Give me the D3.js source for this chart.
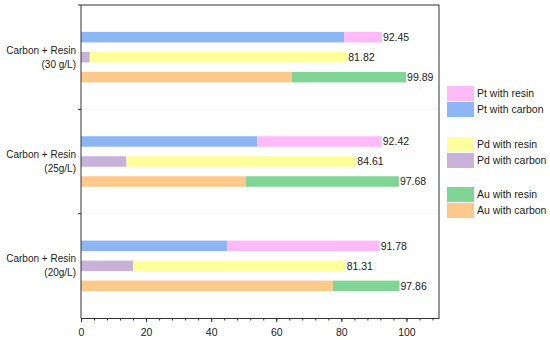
<!DOCTYPE html>
<html>
<head>
<meta charset="utf-8">
<script src="https://cdn.jsdelivr.net/npm/d3@7"></script>
<style>
  body { margin: 0; background: #fff; }
  svg { display: block; font-family: "Liberation Sans", Arial, sans-serif; }
  .axis path, .axis line { stroke: #333; }
</style>
</head>
<body>
<div id="chart"></div>
<script>
// data
const groups = ['30', '25', '20'];
const groupLines = [['Carbon + Resin', '(30 g/L)'], ['Carbon + Resin', '(25g/L)'], ['Carbon + Resin', '(20g/L)']];
const metals = ['Pt', 'Pd', 'Au'];
const ptCarbon = [80.9, 54.2, 44.9];
const ptTotal = [92.45, 92.42, 91.78];
const pdCarbon = [2.7, 14.0, 16.0];
const pdTotal = [81.82, 84.61, 81.31];
const auCarbon = [64.7, 50.7, 77.4];
const auTotal = [99.89, 97.68, 97.86];
const xTicks = [0, 20, 40, 60, 80, 100];
const legendLabels = [['Pt with resin', 'Pt with carbon'], ['Pd with resin', 'Pd with carbon'], ['Au with resin', 'Au with carbon']];

const colors = {
  Pt: { resin: '#ffbaf7', carbon: '#8db6f4' },
  Pd: { resin: '#ffff9c', carbon: '#c9b2d9' },
  Au: { resin: '#80d596', carbon: '#ffc98c' }
};

const width = 550, height = 340;
const margin = { top: 5, left: 81, right: 111, bottom: 22 };

const svg = d3.select('#chart').append('svg')
  .attr('width', width)
  .attr('height', height);

const x = d3.scaleLinear().domain([0, 110]).range([margin.left, width - margin.right]);
const y = d3.scaleBand().domain(groups).range([margin.top, height - margin.bottom]);
const inner = d3.scaleBand().domain(metals).range([0, y.bandwidth()])
  .paddingInner(0.475).paddingOuter(1.345);

// table for drawing
const rows = [];
groups.forEach((g, i) => {
  rows.push({ g, m: 'Pt', c: ptCarbon[i], t: ptTotal[i] });
  rows.push({ g, m: 'Pd', c: pdCarbon[i], t: pdTotal[i] });
  rows.push({ g, m: 'Au', c: auCarbon[i], t: auTotal[i] });
});

// faint separators between groups
svg.append('g').selectAll('line')
  .data(groups.slice(1))
  .join('line')
  .attr('x1', x(0)).attr('x2', x(110))
  .attr('y1', d => y(d)).attr('y2', d => y(d))
  .attr('stroke', '#f3f3f3');

const bars = svg.append('g');
bars.selectAll('.carbon')
  .data(rows)
  .join('rect')
  .attr('class', 'carbon')
  .attr('x', x(0))
  .attr('y', d => y(d.g) + inner(d.m))
  .attr('width', d => x(d.c) - x(0))
  .attr('height', inner.bandwidth())
  .attr('fill', d => colors[d.m].carbon);
bars.selectAll('.resin')
  .data(rows)
  .join('rect')
  .attr('class', 'resin')
  .attr('x', d => x(d.c))
  .attr('y', d => y(d.g) + inner(d.m))
  .attr('width', d => x(d.t) - x(d.c))
  .attr('height', inner.bandwidth())
  .attr('fill', d => colors[d.m].resin);

bars.selectAll('.val')
  .data(rows)
  .join('text')
  .attr('class', 'val')
  .attr('x', d => x(d.t) + 1)
  .attr('y', d => y(d.g) + inner(d.m) + inner.bandwidth() / 2)
  .attr('dy', '0.36em')
  .attr('font-size', '10.5px')
  .attr('fill', '#222')
  .text(d => d3.format('.2f')(d.t));

// x axis with minor ticks
const xAxis = svg.append('g')
  .attr('class', 'axis')
  .attr('transform', `translate(0,${height - margin.bottom})`);
xAxis.call(d3.axisBottom(x).tickValues(d3.range(0, 110, 4)).tickSize(2.5).tickFormat(''))
  .call(g => g.select('.domain').remove());
xAxis.append('g')
  .call(d3.axisBottom(x).tickValues(xTicks).tickSize(4).tickPadding(7).tickSizeOuter(0))
  .call(g => g.selectAll('text').attr('font-size', '10.5px').attr('fill', '#222'))
  .call(g => g.selectAll('line').attr('stroke', '#333'))
  .call(g => g.select('.domain').attr('stroke', '#333'));

// y axis: ticks at group boundaries
const yAxis = svg.append('g').attr('class', 'axis');
yAxis.append('line')
  .attr('x1', x(0)).attr('x2', x(0))
  .attr('y1', margin.top).attr('y2', height - margin.bottom)
  .attr('stroke', '#333');
yAxis.selectAll('.tk')
  .data(groups.slice(1).map(g => y(g)).concat([margin.top]))
  .join('line')
  .attr('class', 'tk')
  .attr('x1', x(0) - 3).attr('x2', x(0))
  .attr('y1', d => d).attr('y2', d => d)
  .attr('stroke', '#333');

// frame top and right
svg.append('path')
  .attr('d', `M${x(0)},${margin.top}H${x(110)}V${height - margin.bottom}`)
  .attr('fill', 'none')
  .attr('stroke', '#333');

// category labels
const cat = svg.append('g').selectAll('text')
  .data(groups)
  .join('text')
  .attr('text-anchor', 'end')
  .attr('font-size', '10px')
  .attr('fill', '#222')
  .attr('x', x(0) - 5)
  .attr('y', d => y(d) + y.bandwidth() / 2 - 7);
cat.selectAll('tspan')
  .data((d, i) => groupLines[i])
  .join('tspan')
  .attr('x', x(0) - 5)
  .attr('dy', (d, i) => i === 0 ? '0.36em' : '14px')
  .text(d => d);

// legend
const legY = [86, 137, 187];
const leg = svg.append('g');
metals.forEach((m, i) => {
  ['resin', 'carbon'].forEach((k, j) => {
    const yy = legY[i] + j * 16;
    leg.append('rect')
      .attr('x', 447).attr('y', yy)
      .attr('width', 27).attr('height', 15)
      .attr('fill', colors[m][k]);
    leg.append('text')
      .attr('x', 477).attr('y', yy + 7.5)
      .attr('dy', '0.36em')
      .attr('font-size', '10.5px')
      .attr('fill', '#222')
      .text(legendLabels[i][j]);
  });
});
</script>
</body>
</html>
